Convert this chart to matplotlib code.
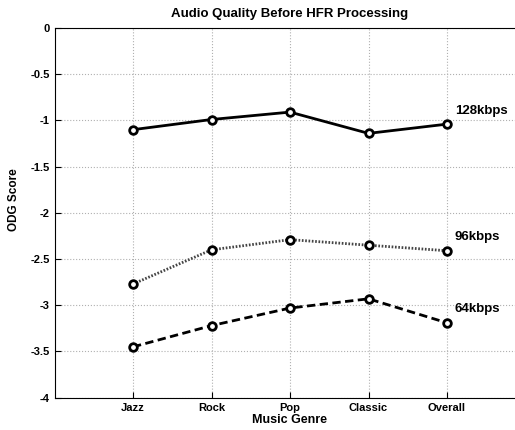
import matplotlib
matplotlib.use("Agg")
from matplotlib import pyplot as plt

plt.rcParams["font.family"] = ["Liberation Sans", "DejaVu Sans"]
plt.rcParams["font.weight"] = "bold"

genres = ["Jazz", "Rock", "Pop", "Classic", "Overall"]
odg_128 = [-1.10, -0.99, -0.91, -1.14, -1.04]
odg_96 = [-2.77, -2.40, -2.29, -2.35, -2.41]
odg_64 = [-3.45, -3.22, -3.03, -2.93, -3.19]
labels = ["128kbps", "96kbps", "64kbps"]
label_y = [-0.90, -2.26, -3.04]

fig = plt.figure(figsize=(5.15, 4.3), dpi=100)
ax = fig.add_axes([54.5 / 515, 1 - 397.7 / 430, 471 / 515, 369.7 / 430])

x = list(range(1, len(genres) + 1))
styles = [("-", "black"), ((0, (0.6, 0.6)), "#444444"), ((0, (3, 1.6)), "black")]
for vals, (ls, col) in zip([odg_128, odg_96, odg_64], styles):
    ax.plot(x, vals, linestyle=ls, color=col, linewidth=2,
            marker="o", markersize=5.5, markerfacecolor="white",
            markeredgecolor="black", markeredgewidth=2)

for lab, ly in zip(labels, label_y):
    ax.text(5.1, ly, lab, fontsize=9.5, fontweight="bold", va="center", ha="left")

ax.set_xlim(0, 6)
ax.set_ylim(-4, 0)
ax.set_xticks(x)
ax.set_xticklabels(genres)
ax.set_yticks([-4, -3.5, -3, -2.5, -2, -1.5, -1, -0.5, 0])
ax.set_yticklabels(["-4", "-3.5", "-3", "-2.5", "-2", "-1.5", "-1", "-0.5", "0"])
ax.tick_params(direction="in", labelsize=8, length=4, width=0.8)
ax.grid(True, linestyle=":", color="#b0b0b0", linewidth=0.8)
for s in ax.spines.values():
    s.set_linewidth(0.8)

ax.set_title("Audio Quality Before HFR Processing", fontsize=9.5, fontweight="bold", pad=8)
ax.set_xlabel("Music Genre", fontsize=9, fontweight="bold", labelpad=1)
ax.set_ylabel("ODG Score", fontsize=8.5, fontweight="bold")
ax.yaxis.set_label_coords(-0.073, 0.535)

fig.savefig("out.png", dpi=100)
